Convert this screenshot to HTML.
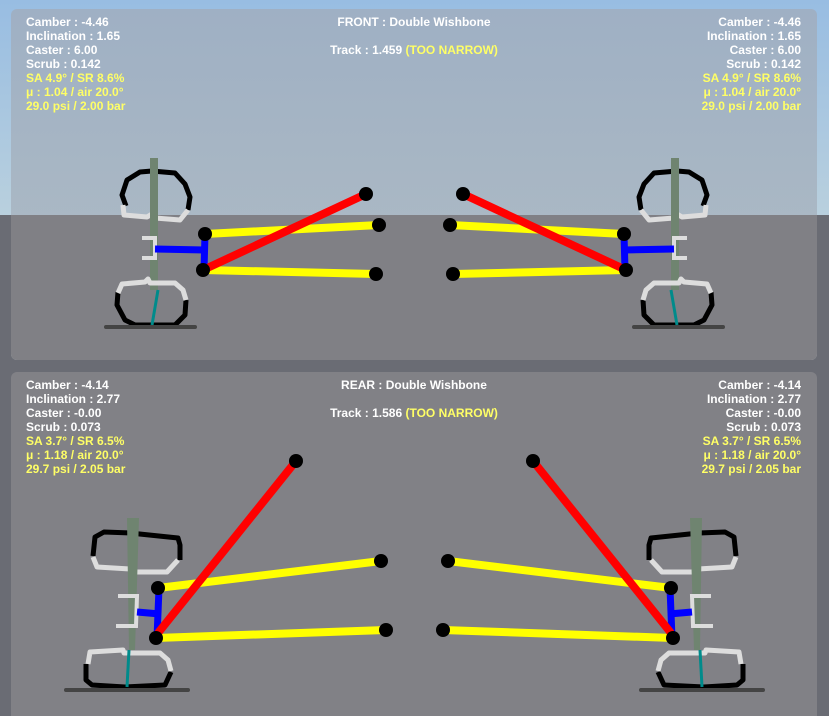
<!DOCTYPE html>
<html><head><meta charset="utf-8"><style>
html,body{margin:0;padding:0;width:829px;height:716px;overflow:hidden;background:#6a6c74}
svg{display:block}
text{font-family:"Liberation Sans",sans-serif;font-size:12px;font-weight:bold}
</style></head><body>
<svg width="829" height="716" viewBox="0 0 829 716" xmlns="http://www.w3.org/2000/svg">
<defs>
<linearGradient id="sky" x1="0" y1="0" x2="0" y2="1">
<stop offset="0" stop-color="#98bde2"/><stop offset="1" stop-color="#b9d0de"/>
</linearGradient>
<linearGradient id="pan" x1="0" y1="0" x2="0" y2="1">
<stop offset="0" stop-color="#9fb0c4"/><stop offset="1" stop-color="#b1bdc5"/>
</linearGradient>
<g id="fw">
<polyline points="126,206 122,195 127,180 140,172 152,171 175,173 185,184 190,197 188,210" fill="none" stroke="#000" stroke-width="5" stroke-linejoin="round"/>
<polyline points="123,205 124,215 147,217 152,214 155,218 180,220 188,210" fill="none" stroke="#ddd" stroke-width="5" stroke-linejoin="round"/>
<rect x="150" y="158" width="8" height="132" fill="#6f8470"/>
<polyline points="142,238 155,238 155,258 142,258" fill="none" stroke="#ddd" stroke-width="4"/>
<line x1="155" y1="249" x2="205" y2="250" stroke="#0000ff" stroke-width="7"/>
<line x1="205" y1="234" x2="204" y2="270" stroke="#0000ff" stroke-width="7"/>
<line x1="205" y1="234" x2="379" y2="225" stroke="#ffff00" stroke-width="8"/>
<line x1="203" y1="270" x2="376" y2="274" stroke="#ffff00" stroke-width="8"/>
<line x1="203" y1="270" x2="366" y2="194" stroke="#ff0000" stroke-width="8"/>
<circle cx="205" cy="234" r="7"/><circle cx="203" cy="270" r="7"/>
<circle cx="379" cy="225" r="7"/><circle cx="376" cy="274" r="7"/><circle cx="366" cy="194" r="7"/>
<polyline points="118,292 117,305 125,320 135,325 175,325 185,315 186,300" fill="none" stroke="#000" stroke-width="5" stroke-linejoin="round"/>
<polyline points="118,293 122,284 145,282 148,279 150,283 175,283 183,290 186,300" fill="none" stroke="#ddd" stroke-width="5" stroke-linejoin="round"/>
<line x1="158" y1="290" x2="152" y2="325" stroke="#008b8b" stroke-width="3"/>
<line x1="106" y1="327" x2="195" y2="327" stroke="#444" stroke-width="4" stroke-linecap="round"/>
</g>
<g id="rw">
<polyline points="93,556 95,537 104,532 130,533 178,538 180,545 180,560" fill="none" stroke="#000" stroke-width="5" stroke-linejoin="round"/>
<polyline points="93,557 97,567 131,569 132,572 167,572 178,560" fill="none" stroke="#ddd" stroke-width="5" stroke-linejoin="round"/>
<polygon points="127,518 139,518 135,650 129,650" fill="#6f8470"/>
<polyline points="118,596 137,596 136,626 116,626" fill="none" stroke="#ddd" stroke-width="4"/>
<line x1="137" y1="612" x2="160" y2="614" stroke="#0000ff" stroke-width="7"/>
<line x1="159" y1="588" x2="157" y2="638" stroke="#0000ff" stroke-width="7"/>
<line x1="158" y1="588" x2="381" y2="561" stroke="#ffff00" stroke-width="8"/>
<line x1="156" y1="638" x2="386" y2="630" stroke="#ffff00" stroke-width="8"/>
<line x1="158" y1="633" x2="296" y2="461" stroke="#ff0000" stroke-width="8"/>
<circle cx="158" cy="588" r="7"/><circle cx="156" cy="638" r="7"/>
<circle cx="381" cy="561" r="7"/><circle cx="386" cy="630" r="7"/><circle cx="296" cy="461" r="7"/>
<polyline points="86,664 86,680 92,685 125,687 165,685 171,672" fill="none" stroke="#000" stroke-width="5" stroke-linejoin="round"/>
<polyline points="88,664 90,652 123,650 124,653 160,653 168,660 171,671" fill="none" stroke="#ddd" stroke-width="5" stroke-linejoin="round"/>
<line x1="129" y1="650" x2="127" y2="687" stroke="#008b8b" stroke-width="3"/>
<line x1="66" y1="690" x2="188" y2="690" stroke="#444" stroke-width="4" stroke-linecap="round"/>
</g>
</defs>
<rect width="829" height="215" fill="url(#sky)"/>
<rect y="215" width="829" height="501" fill="#6a6c74"/>
<rect x="11" y="9" width="806" height="351" rx="6" fill="url(#pan)"/>
<path d="M11,215 H817 V354 a6,6 0 0 1 -6,6 H17 a6,6 0 0 1 -6,-6 Z" fill="#808085"/>
<rect x="11" y="372" width="806" height="360" rx="6" fill="#818186"/>
<use href="#fw"/>
<use href="#fw" transform="translate(829,0) scale(-1,1)"/>
<use href="#rw"/>
<use href="#rw" transform="translate(829,0) scale(-1,1)"/>
<g fill="#fff">
<text x="26" y="26">Camber : -4.46</text><text x="26" y="40">Inclination : 1.65</text><text x="26" y="54">Caster : 6.00</text><text x="26" y="68">Scrub : 0.142</text>
<text x="26" y="389">Camber : -4.14</text><text x="26" y="403">Inclination : 2.77</text><text x="26" y="417">Caster : -0.00</text><text x="26" y="431">Scrub : 0.073</text>
</g>
<g fill="#fff" text-anchor="end">
<text x="801" y="26">Camber : -4.46</text><text x="801" y="40">Inclination : 1.65</text><text x="801" y="54">Caster : 6.00</text><text x="801" y="68">Scrub : 0.142</text>
<text x="801" y="389">Camber : -4.14</text><text x="801" y="403">Inclination : 2.77</text><text x="801" y="417">Caster : -0.00</text><text x="801" y="431">Scrub : 0.073</text>
</g>
<g fill="#ffff66">
<text x="26" y="82">SA 4.9° / SR 8.6%</text><text x="26" y="96">μ : 1.04 / air 20.0°</text><text x="26" y="110">29.0 psi / 2.00 bar</text>
<text x="26" y="445">SA 3.7° / SR 6.5%</text><text x="26" y="459">μ : 1.18 / air 20.0°</text><text x="26" y="473">29.7 psi / 2.05 bar</text>
</g>
<g fill="#ffff66" text-anchor="end">
<text x="801" y="82">SA 4.9° / SR 8.6%</text><text x="801" y="96">μ : 1.04 / air 20.0°</text><text x="801" y="110">29.0 psi / 2.00 bar</text>
<text x="801" y="445">SA 3.7° / SR 6.5%</text><text x="801" y="459">μ : 1.18 / air 20.0°</text><text x="801" y="473">29.7 psi / 2.05 bar</text>
</g>
<g text-anchor="middle" fill="#fff">
<text x="414" y="26">FRONT : Double Wishbone</text>
<text x="414" y="54">Track : 1.459 <tspan fill="#ffff66">(TOO NARROW)</tspan></text>
<text x="414" y="389">REAR : Double Wishbone</text>
<text x="414" y="417">Track : 1.586 <tspan fill="#ffff66">(TOO NARROW)</tspan></text>
</g>
</svg>
</body></html>
